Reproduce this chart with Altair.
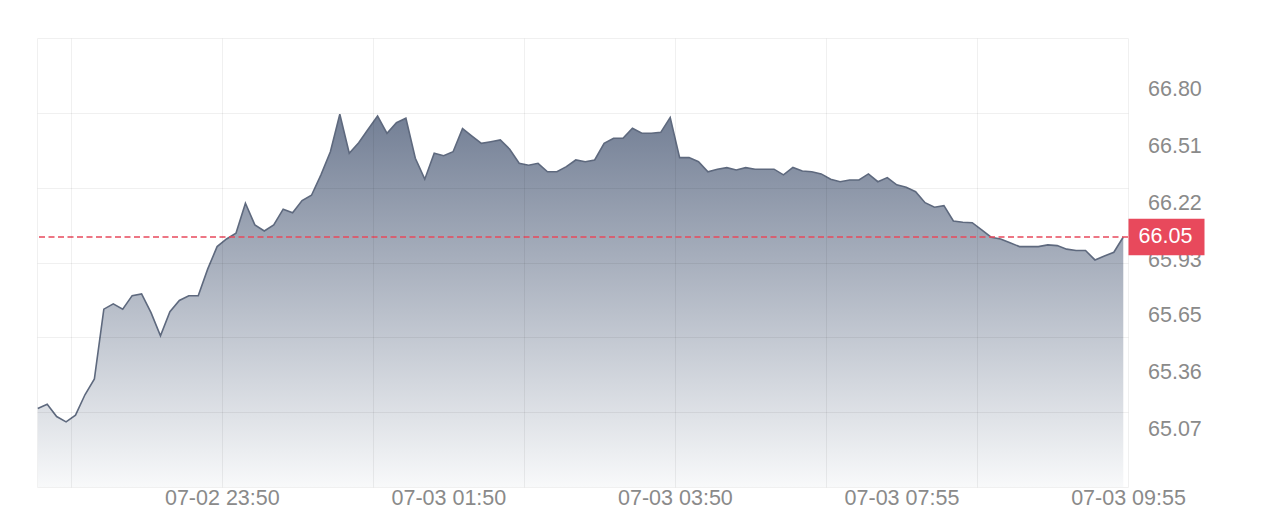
import altair as alt
import pandas as pd

# price series, one value per 5-minute step
values = [
    65.175, 65.197, 65.134, 65.107, 65.141, 65.245, 65.326, 65.682, 65.709, 65.682,
    65.751, 65.760, 65.664, 65.546, 65.669, 65.726, 65.750, 65.750, 65.886, 66.001,
    66.040, 66.069, 66.222, 66.112, 66.081, 66.112, 66.192, 66.174, 66.236, 66.263,
    66.367, 66.485, 66.676, 66.477, 66.531, 66.600, 66.667, 66.579, 66.633, 66.656,
    66.452, 66.345, 66.477, 66.465, 66.485, 66.603, 66.565, 66.528, 66.536, 66.545,
    66.498, 66.426, 66.416, 66.426, 66.383, 66.383, 66.409, 66.443, 66.434, 66.443,
    66.528, 66.554, 66.554, 66.605, 66.579, 66.579, 66.584, 66.659, 66.455, 66.455,
    66.434, 66.383, 66.396, 66.404, 66.392, 66.404, 66.396, 66.396, 66.396, 66.367,
    66.405, 66.387, 66.383, 66.372, 66.345, 66.332, 66.341, 66.341, 66.372, 66.332,
    66.353, 66.316, 66.304, 66.281, 66.225, 66.202, 66.210, 66.132, 66.125, 66.123,
    66.086, 66.049, 66.040, 66.021, 66.001, 66.001, 66.001, 66.010, 66.006, 65.988,
    65.981, 65.981, 65.933, 65.953, 65.972, 66.05,
]
last_value = 66.05

y_tick_values = [65.07, 65.36, 65.65, 65.93, 66.22, 66.51, 66.80]
x_tick_labels = ["07-02 23:50", "07-03 01:50", "07-03 03:50", "07-03 07:55", "07-03 09:55"]
x_tick_index = [19.5, 43.5, 67.5, 91.5, 115.5]

df = pd.DataFrame({"i": list(range(len(values))), "v": values})
last_df = pd.DataFrame({"v": [last_value], "label": [f"{last_value:.2f}"]})

W, H = 1091, 449
x_dom = [-0.08, 115.5]
y_dom = [64.7745, 67.0653]
xs = alt.Scale(domain=x_dom, nice=False, zero=False)
ys = alt.Scale(domain=y_dom, nice=False, zero=False)

grid_y_vals = [y_dom[0] + k * (y_dom[1] - y_dom[0]) / 6 for k in range(1, 6)]
grid_x_vals = [3.5 + 16 * k for k in range(7)]

FONT = "Arial, Liberation Sans, sans-serif"
FS = 21.5
LABEL_COLOR = "#8a8a8a"
RED = "#e8495c"

grid_x_axis = alt.Axis(orient="bottom", values=grid_x_vals, labels=False, ticks=False,
                       domain=False, grid=True, gridColor="#000000", gridOpacity=0.06,
                       title=None, zindex=1)
grid_y_axis = alt.Axis(orient="left", values=grid_y_vals, labels=False, ticks=False,
                       domain=False, grid=True, gridColor="#000000", gridOpacity=0.06,
                       title=None, zindex=1)

label_expr = "[" + ",".join(f"'{t}'" for t in x_tick_labels) + "][indexof([" + \
    ",".join(str(v) for v in x_tick_index) + "], datum.value)]"

label_x_axis = alt.Axis(orient="bottom", values=x_tick_index, labelExpr=label_expr,
                        ticks=False, domain=False, grid=False, title=None,
                        labelFlush=False, labelFont=FONT, labelFontSize=FS,
                        labelColor=LABEL_COLOR, labelPadding=0, labelOverlap=False)
label_y_axis = alt.Axis(orient="right", values=y_tick_values, format=".2f",
                        ticks=False, domain=False, grid=False, title=None,
                        labelFont=FONT, labelFontSize=FS, labelColor=LABEL_COLOR,
                        labelPadding=19.5, labelOverlap=False)

gradient = alt.Gradient(
    gradient="linear",
    stops=[alt.GradientStop(color="#737f95", offset=0),
           alt.GradientStop(color="#f8f9fa", offset=1)],
    x1=0, x2=0, y1=0, y2=1,
)

area = alt.Chart(df).mark_area(color=gradient).encode(
    x=alt.X("i:Q", scale=xs, axis=grid_x_axis),
    y=alt.Y("v:Q", scale=ys, axis=grid_y_axis),
    y2=alt.Y2(datum=y_dom[0]),
)

line = alt.Chart(df).mark_line(color="#5e697e", strokeWidth=1.6).encode(
    x=alt.X("i:Q", scale=xs, axis=label_x_axis),
    y=alt.Y("v:Q", scale=ys, axis=label_y_axis),
)

rule = alt.Chart(last_df).mark_rule(color=RED, strokeWidth=1.5, strokeDash=[6, 3.5]).encode(
    y=alt.Y("v:Q", scale=ys, axis=None),
)

box = alt.Chart(last_df).mark_rect(color=RED, yOffset=-18.3, y2Offset=18.3).encode(
    x=alt.value(W + 0.5),
    x2=alt.value(W + 76.5),
    y=alt.Y("v:Q", scale=ys, axis=None),
    y2="v:Q",
)

box_text = alt.Chart(last_df).mark_text(color="white", font=FONT, fontSize=FS,
                                         align="center", baseline="middle").encode(
    x=alt.value(W + 37.5),
    y=alt.Y("v:Q", scale=ys, axis=None),
    text="label:N",
)

chart = alt.layer(area, line, rule, box, box_text).resolve_axis(
    x="independent", y="independent"
).properties(
    width=W, height=H,
    padding={"left": 26, "top": 30, "right": 10, "bottom": 10},
    background="white",
).configure_view(stroke="#f0f0f0", strokeWidth=1)

chart.save("out.html", embed_options={"renderer": "svg", "actions": False})
